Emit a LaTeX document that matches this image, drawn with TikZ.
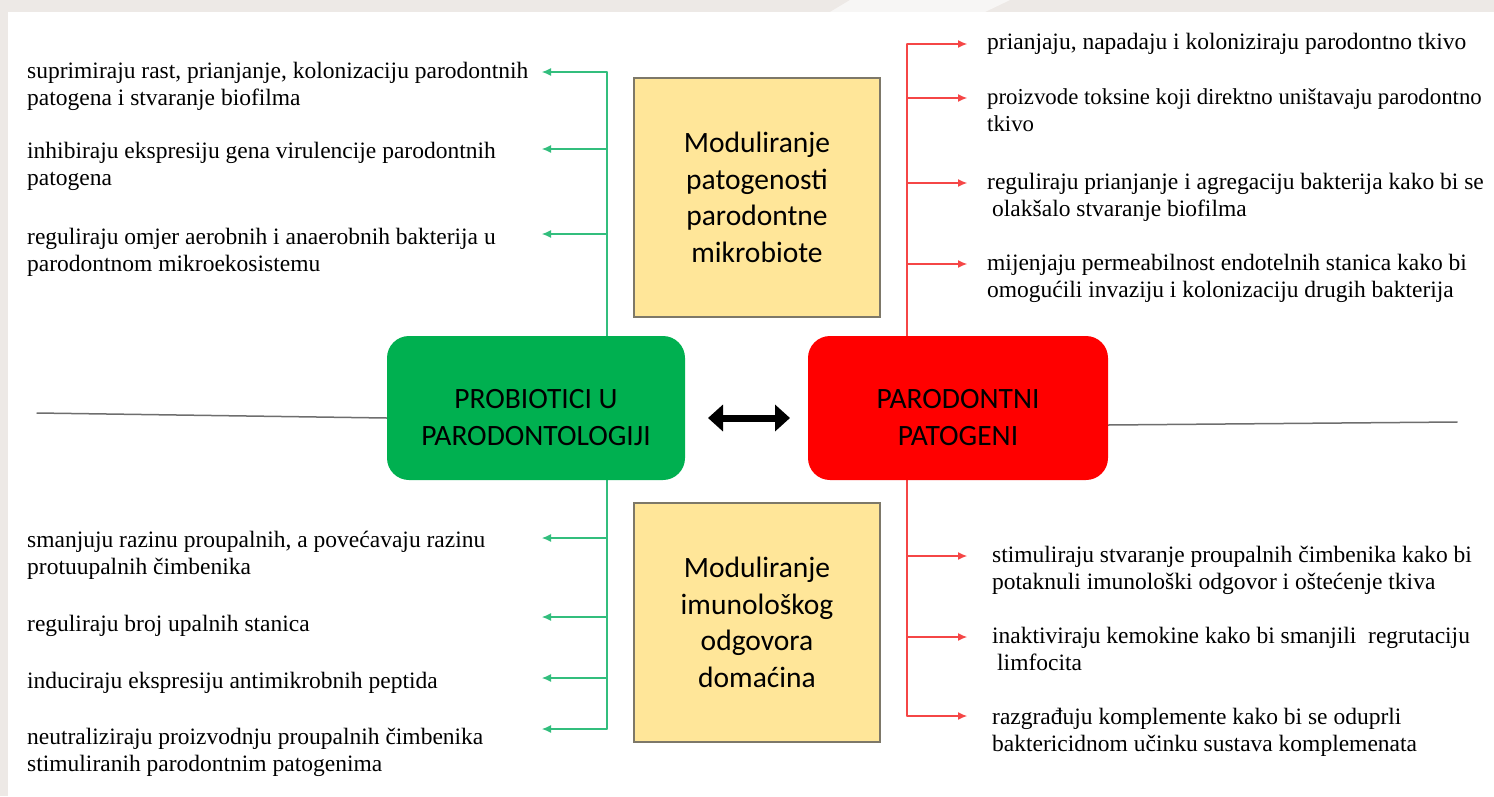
\documentclass[tikz,border=0pt]{standalone}
\usepackage{fontspec}
\setmainfont{Liberation Serif}
\newfontfamily\boxfont{Carlito}
\usepackage{tkz-euclide}
\usetikzlibrary{arrows.meta,calc}
\definecolor{FrameClr}{RGB}{237,233,230}
\definecolor{ProbClr}{RGB}{0,176,80}
\definecolor{PatClr}{RGB}{255,0,0}
\definecolor{ModClr}{RGB}{255,230,153}
\definecolor{ModLineClr}{RGB}{125,120,105}
\definecolor{ProbLineClr}{RGB}{50,190,125}
\definecolor{PatLineClr}{RGB}{245,70,70}
\definecolor{SideLineClr}{RGB}{110,110,110}

\tikzset{
  mainbox/.style={rounded corners=22pt,minimum width=298pt,minimum height=144pt,
    align=center,font=\boxfont\fontsize{29.5}{37}\selectfont},
  modbox/.style={draw=ModLineClr,line width=1.2pt,fill=ModClr,minimum width=246pt,
    minimum height=239pt,align=center,font=\boxfont\fontsize{29.5}{36.5}\selectfont},
  item/.style={anchor=base west,align=left,inner sep=0pt,font=\fontsize{23.5}{27}\selectfont},
  probline/.style={draw=ProbLineClr,line width=1.1pt},
  patline/.style={draw=PatLineClr,line width=1.1pt},
  probarrow/.style={probline,-{Latex[length=9pt,width=8pt]}},
  patarrow/.style={patline,-{Latex[length=9pt,width=8pt]}}
}
\newcommand{\boxstrut}{\rule{0pt}{38pt}}

\begin{document}
\begin{tikzpicture}[x=1pt,y=-1pt]
\useasboundingbox (0,0) rectangle (1494,796);
\fill[FrameClr] (0,0) rectangle (1494,796);
\fill[white] (8,12) rectangle (1494,796);
\fill[white,opacity=.6] (850,0) -- (1010,0) -- (985,12) -- (830,12) -- cycle;

\tkzDefPoints{607/336/GS,607/72/Ga,607/149/Gb,607/234/Gc}
\tkzDefPoints{542/72/ga,542/149/gb,542/234/gc}
\tkzDefPoints{607/480/GT,607/538/Gd,607/617/Ge,607/678/Gf,607/729/Gg}
\tkzDefPoints{542/538/gd,542/617/ge,542/678/gf,542/729/gg}
\tkzDefPoints{907/336/RS,907/44/Ra,907/98/Rb,907/183/Rc,907/264/Rd}
\tkzDefPoints{967/44/ra,967/98/rb,967/183/rc,967/264/rd}
\tkzDefPoints{907/480/RT,907/556/Re,907/637/Rf,907/716/Rg}
\tkzDefPoints{967/556/re,967/637/rf,967/716/rg}
\tkzDefPoints{37/413/Xl,387/418/Xg,1108/425/Xr,1457/422/Xe}
\tkzDefPoints{708/418/Da,790/418/Db}

\tkzDrawSegments[draw=SideLineClr,line width=1.5pt](Xl,Xg Xr,Xe)

\tkzDrawSegments[probline](GS,Ga GT,Gg)
\tkzDrawSegments[probarrow](Ga,ga Gb,gb Gc,gc Gd,gd Ge,ge Gf,gf Gg,gg)
\tkzDrawSegments[patline](RS,Ra RT,Rg)
\tkzDrawSegments[patarrow](Ra,ra Rb,rb Rc,rc Rd,rd Re,re Rf,rf Rg,rg)

\node[mainbox,fill=ProbClr] (PROB) at (536,408) {\boxstrut PROBIOTICI U\\PARODONTOLOGIJI};
\node[mainbox,fill=PatClr,minimum width=300pt] (PAT) at (958,408) {\boxstrut PARODONTNI\\PATOGENI};

\draw[line width=7pt,{Triangle[length=15pt,width=26pt]}-{Triangle[length=15pt,width=26pt]}] (Da) -- (Db);

\node[modbox] (MODMIK) at (757,197.5) {Moduliranje\\patogenosti\\parodontne\\mikrobiote};
\node[modbox] (MODIMU) at (757,622.5) {Moduliranje\\imunološkog\\odgovora\\domaćina};

\node[item] (LT1) at (27,105) {suprimiraju rast, prianjanje, kolonizaciju parodontnih\\patogena i stvaranje biofilma};
\node[item] (LT2) at (27,185) {inhibiraju ekspresiju gena virulencije parodontnih\\patogena};
\node[item] (LT3) at (27,271) {reguliraju omjer aerobnih i anaerobnih bakterija u\\parodontnom mikroekosistemu};

\node[item] (LB1) at (27,574) {smanjuju razinu proupalnih, a povećavaju razinu\\protuupalnih čimbenika};
\node[item] (LB2) at (27,631) {reguliraju broj upalnih stanica};
\node[item] (LB3) at (27,688) {induciraju ekspresiju antimikrobnih peptida};
\node[item] (LB4) at (27,771) {neutraliziraju proizvodnju proupalnih čimbenika\\stimuliranih parodontnim patogenima};

\node[item] (RT1) at (987,49) {prianjaju, napadaju i koloniziraju parodontno tkivo};
\node[item,font=\fontsize{22.8}{27}\selectfont] (RT2) at (987,131) {proizvode toksine koji direktno uništavaju parodontno\\tkivo};
\node[item] (RT3) at (987,216) {reguliraju prianjanje i agregaciju bakterija kako bi se\\\hspace{5pt}olakšalo stvaranje biofilma};
\node[item] (RT4) at (987,297) {mijenjaju permeabilnost endotelnih stanica kako bi\\omogućili invaziju i kolonizaciju drugih bakterija};

\node[item] (RB1) at (992,589) {stimuliraju stvaranje proupalnih čimbenika kako bi\\potaknuli imunološki odgovor i oštećenje tkiva};
\node[item] (RB2) at (992,670) {inaktiviraju kemokine kako bi smanjili\ \ regrutaciju\\\hspace{5pt}limfocita};
\node[item] (RB3) at (992,751) {razgrađuju komplemente kako bi se oduprli\\baktericidnom učinku sustava komplemenata};
\end{tikzpicture}
\end{document}
